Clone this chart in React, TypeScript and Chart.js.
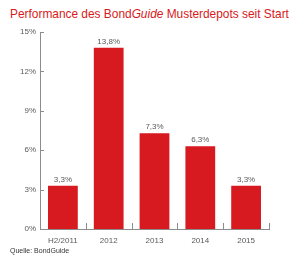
import React, { useEffect, useRef } from "react";
import { Chart, registerables } from "chart.js";

Chart.register(...registerables);

const categories = ["H2/2011", "2012", "2013", "2014", "2015"];
const performance = [3.3, 13.8, 7.3, 6.3, 3.3];
const valueLabels = ["3,3%", "13,8%", "7,3%", "6,3%", "3,3%"];
const yTicks = [0, 3, 6, 9, 12, 15];

const RED = "#d71920";
const AXIS = "#8c8c8c";
const TEXT = "#5a5a5a";
const FONT = "'Liberation Sans', Arial, Helvetica, sans-serif";

const innerTicks = {
  id: "innerTicks",
  afterDraw(chart: any) {
    const ctx = chart.ctx;
    const { left, bottom } = chart.chartArea;
    const x = chart.scales.x;
    const y = chart.scales.y;
    ctx.save();
    ctx.strokeStyle = AXIS;
    ctx.lineWidth = 1;
    ctx.beginPath();
    y.ticks.forEach((_t: any, i: number) => {
      const py = Math.round(y.getPixelForTick(i)) + 0.5;
      ctx.moveTo(left, py);
      ctx.lineTo(left + 4, py);
    });
    const n = categories.length;
    const half = (x.getPixelForTick(1) - x.getPixelForTick(0)) / 2;
    for (let i = 0; i < n; i++) {
      const px = Math.round(x.getPixelForTick(i) + half) + 0.5;
      ctx.moveTo(px, bottom);
      ctx.lineTo(px, bottom - 6);
    }
    ctx.stroke();
    ctx.restore();
  },
};

const barLabels = {
  id: "barLabels",
  afterDatasetsDraw(chart: any) {
    const ctx = chart.ctx;
    const meta = chart.getDatasetMeta(0);
    ctx.save();
    ctx.fillStyle = TEXT;
    ctx.font = `8px ${FONT}`;
    ctx.textAlign = "center";
    ctx.textBaseline = "bottom";
    meta.data.forEach((bar: any, i: number) => {
      ctx.fillText(valueLabels[i], bar.x, bar.y - 2);
    });
    ctx.restore();
  },
};

export default function App() {
  const ref = useRef<HTMLCanvasElement | null>(null);

  useEffect(() => {
    if (!ref.current) return;
    const chart = new Chart(ref.current, {
      type: "bar",
      data: {
        labels: categories,
        datasets: [
          {
            data: performance,
            backgroundColor: RED,
            borderWidth: 0,
            barPercentage: 0.65,
            categoryPercentage: 1,
          },
        ],
      },
      options: {
        animation: false,
        responsive: false,
        maintainAspectRatio: false,
        layout: { padding: { top: 32, right: 31, left: 0, bottom: 0 } },
        plugins: {
          legend: { display: false },
          tooltip: { enabled: false },
          title: { display: false },
        },
        scales: {
          x: {
            grid: { display: false, drawTicks: false },
            border: { display: true, color: AXIS, width: 1 },
            ticks: {
              color: TEXT,
              font: { family: FONT, size: 8 },
              padding: 7,
              maxRotation: 0,
              autoSkip: false,
            },
            afterFit(scale: any) {
              scale.height = 33;
            },
          },
          y: {
            min: 0,
            max: 15,
            afterBuildTicks(scale: any) {
              scale.ticks = yTicks.map((v) => ({ value: v }));
            },
            grid: { display: false, drawTicks: false },
            border: { display: true, color: AXIS, width: 1 },
            ticks: {
              color: TEXT,
              font: { family: FONT, size: 8 },
              padding: 4,
              callback: (v: any) => `${v}%`,
            },
            afterFit(scale: any) {
              scale.width = 40;
            },
          },
        },
      },
      plugins: [innerTicks, barLabels],
    });
    return () => chart.destroy();
  }, []);

  return (
    <div
      style={{
        position: "fixed",
        left: 0,
        top: 0,
        width: 300,
        height: 262,
        background: "#fff",
        fontFamily: FONT,
      }}
    >
      <div
        style={{
          position: "absolute",
          left: 10,
          top: 6,
          color: RED,
          fontSize: 11.9,
          lineHeight: "16px",
          whiteSpace: "nowrap",
        }}
      >
        Performance des Bond<i>Guide</i> Musterdepots seit Start
      </div>
      <canvas
        ref={ref}
        width={300}
        height={262}
        style={{ position: "absolute", left: 0, top: 0 }}
      />
      <div
        style={{
          position: "absolute",
          left: 10,
          top: 246,
          color: "#333",
          fontSize: 7,
          lineHeight: "10px",
          whiteSpace: "nowrap",
        }}
      >
        Quelle: BondGuide
      </div>
    </div>
  );
}
